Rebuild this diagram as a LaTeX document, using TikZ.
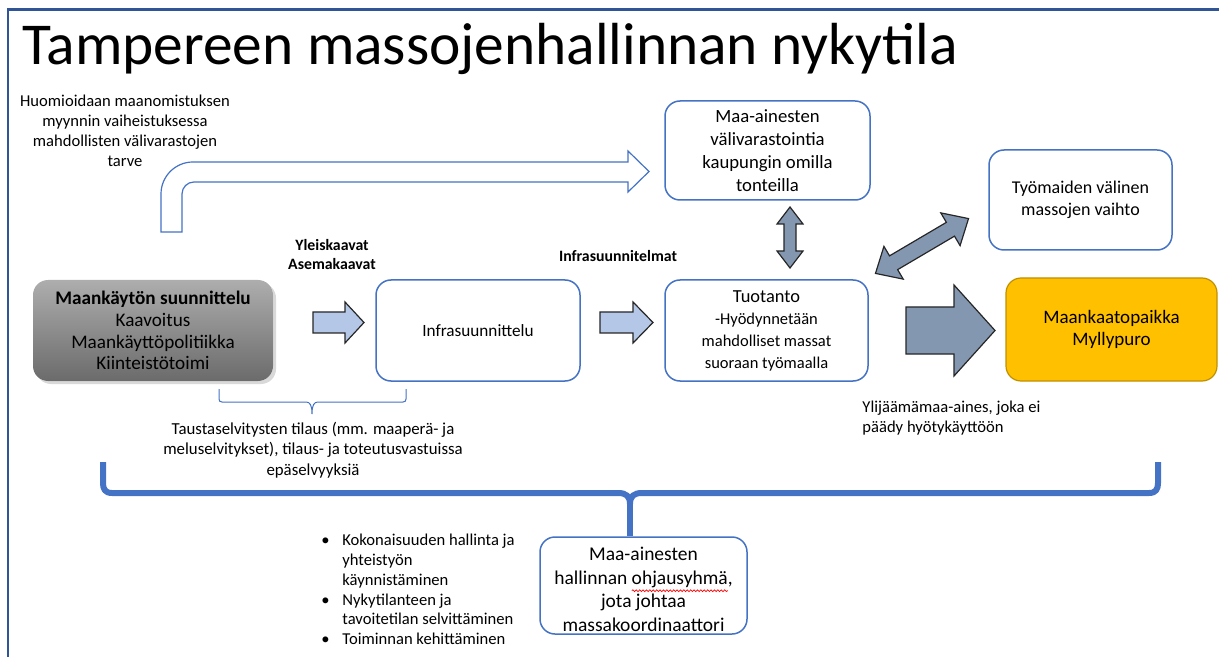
\documentclass[tikz,border=0pt]{standalone}
\usepackage{fontspec}
\setmainfont{Carlito}
\usetikzlibrary{shadows,calc,decorations.pathmorphing}
\definecolor{bblue}{HTML}{4472C4}
\definecolor{fblue}{HTML}{2F5597}
\definecolor{lblue}{HTML}{B4C7E7}
\definecolor{slate}{HTML}{8497B0}
\definecolor{gold}{HTML}{FFC000}
\definecolor{golddark}{HTML}{BF9000}
\newcommand\fsz[2]{\fontsize{#1}{#2}\selectfont}
\newlength\ohjlen
\newlength\linelen
\newlength\prelen
\newlength\olen
\begin{document}
\settowidth\ohjlen{\fsz{9.75}{11.75}ohjausyhmä}%
\settowidth\linelen{\fsz{9.75}{11.75}hallinnan ohjausyhmä,}%
\settowidth\prelen{\fsz{9.75}{11.75}hallinnan o}%
\settowidth\olen{\fsz{9.75}{11.75}o}%
\addtolength\prelen{-\olen}%
\begin{tikzpicture}[x=0.5pt,y=-0.5pt,
  bx/.style={draw=bblue, line width=0.75pt, rounded corners=7.5pt, fill=white, align=center, inner sep=0pt},
  anno/.style={align=center, inner sep=0pt, font=\fsz{8.3}{9.9}},
  lbl/.style={align=center, inner sep=0pt, font=\bfseries\fsz{7.9}{9.5}},
  blkl/.style={draw=black!85, fill=lblue, line width=0.6pt, line join=miter},
  blks/.style={draw=black!85, fill=slate, line width=0.6pt, line join=miter},
  brace/.style={draw=bblue, line width=3pt, line join=round}
]
\useasboundingbox (0,0) rectangle (1219,657);
\draw[fblue, line width=1.2pt] (8,657) -- (8,9.5) -- (1219,9.5);

\node[anchor=base west, inner sep=0pt, font=\fsz{29.7}{35}] (title) at (22,65) {Tampereen massojenhallinnan nykytila};

% boxes
\node[bx, draw=none, minimum width=120pt, minimum height=50.5pt, top color=black!32, bottom color=black!58,
      drop shadow={opacity=0.3, shadow xshift=1.5pt, shadow yshift=-1.5pt}, font=\fsz{9.6}{10.9}] (maank) at (153,330.5)
  {\textbf{Maankäytön suunnittelu}\\Kaavoitus\\Maankäyttöpolitiikka\\Kiinteistötoimi};
\node[bx, minimum width=102pt, minimum height=50.5pt, font=\fsz{8.6}{10}] (infra) at (478,330.5) {Infrasuunnittelu};
\node[bx, minimum width=101.5pt, minimum height=50.5pt, font=\fsz{8.25}{11}] (tuot) at (766.5,330.5)
  {{\fsz{9.2}{11}Tuotanto}\\-Hyödynnetään\\mahdolliset massat\\suoraan työmaalla};
\node[bx, minimum width=102.5pt, minimum height=49.5pt, font=\fsz{9.35}{11.4}] (valiv) at (767.5,150.5)
  {Maa-ainesten\\välivarastointia\\kaupungin omilla\\tonteilla};
\node[bx, minimum width=91.5pt, minimum height=50pt, font=\fsz{9}{11}] (tyom) at (1080.5,200)
  {Työmaiden välinen\\massojen vaihto};
\node[bx, draw=golddark, fill=gold, line width=0.6pt, minimum width=105.5pt, minimum height=51.5pt, font=\fsz{9.5}{11.25}] (kaato) at (1111.5,329.5)
  {Maankaatopaikka\\Myllypuro};
\node[bx, minimum width=103.5pt, minimum height=48.5pt, font=\fsz{9.75}{11.75}] (ohj) at (643.5,585.5)
  {\rule{0pt}{10.7pt}Maa-ainesten\\hallinnan ohjausyhmä,\\jota johtaa\\massakoordinaattori};
% spell-check squiggle under "ohjausyhmä"
\draw[red, line width=0.35pt, decorate, decoration={snake, amplitude=0.45pt, segment length=1.7pt}]
  ($(ohj.center)+(-0.5\linelen+\prelen,-2.6pt)$) -- ($(ohj.center)+(-0.5\linelen+\prelen+\ohjlen,-2.6pt)$);

% annotations
\node[anno] (huom) at (125,131) {Huomioidaan maanomistuksen\\myynnin vaiheistuksessa\\mahdollisten välivarastojen\\tarve};
\node[lbl] (kaavat) at (332,254.5) {Yleiskaavat\\Asemakaavat};
\node[lbl] (isuun) at (618,256) {Infrasuunnitelmat};
\node[anno, font=\fsz{8.4}{10.25}] (taust) at (313,450) {Taustaselvitysten tilaus (mm. maaperä- ja\\meluselvitykset), tilaus- ja toteutusvastuissa\\epäselvyyksiä};
\node[anno, align=left, anchor=west] (ylij) at (862,418) {Ylijäämämaa-aines, joka ei\\päädy hyötykäyttöön};
\node[anno, align=left, anchor=west] (bul) at (321,589.5)
  {\makebox[10.5pt][l]{•}Kokonaisuuden hallinta ja\\\hspace*{10.5pt}yhteistyön\\\hspace*{10.5pt}käynnistäminen\\
   \makebox[10.5pt][l]{•}Nykytilanteen ja\\\hspace*{10.5pt}tavoitetilan selvittäminen\\\makebox[10.5pt][l]{•}Toiminnan kehittäminen};

% bent arrow (outline)
\draw[draw=bblue, fill=white, line width=0.6pt, line join=miter]
  (161,232) -- (161,194) .. controls (161,176.3) and (175.3,162) .. (193,162) -- (628,162) -- (628,151) -- (649,171.5)
  -- (628,192) -- (628,182) -- (194,182) .. controls (187.4,182) and (182,187.4) .. (182,194) -- (182,232) -- cycle;

% block arrows
\draw[blkl] (313,312) -- (345,312) -- (345,302) -- (364,322.5) -- (345,343) -- (345,333) -- (313,333) -- cycle;
\draw[blkl] (600,312) -- (633,312) -- (633,302) -- (653,322.5) -- (633,343) -- (633,333) -- (600,333) -- cycle;
\draw[blks] (906,307) -- (954,307) -- (954,285) -- (995,330.5) -- (954,376) -- (954,354) -- (906,354) -- cycle;
\draw[blks] (790,207) -- (803,224) -- (796,224) -- (796,251) -- (803,251) -- (790,268) -- (777,251) -- (784,251) -- (784,224) -- (777,224) -- cycle;
\begin{scope}[shift={(922,246)}, rotate=30.5]
\draw[blks] (-54,0) -- (-33,-19) -- (-33,-8) -- (33,-8) -- (33,-19) -- (54,0) -- (33,19) -- (33,8) -- (-33,8) -- (-33,19) -- cycle;
\end{scope}

% thin bracket
\draw[bblue, line width=0.5pt] (219,389) -- (219,399) .. controls (219,401) and (220,402) .. (222,402) -- (306,402)
  .. controls (310,402) and (312,405) .. (312,414) .. controls (312,405) and (314,402) .. (318,402) -- (403,402)
  .. controls (405,402) and (406,401) .. (406,399) -- (406,389);

% big brace
\coordinate (bl) at (103,462);
\coordinate (br) at (1158,462);
\coordinate (bc) at (630,493);
\draw[brace] (bl) -- (103,483) .. controls (103,489) and (105,493) .. (112,493) -- (618,493)
  .. controls (626,493) and (630,496) .. (630,504) .. controls (630,496) and (634,493) .. (642,493) -- (1149,493)
  .. controls (1156,493) and (1158,489) .. (1158,483) -- (br);
\draw[brace] (630,500) -- (bc |- ohj.north);
\end{tikzpicture}
\end{document}
